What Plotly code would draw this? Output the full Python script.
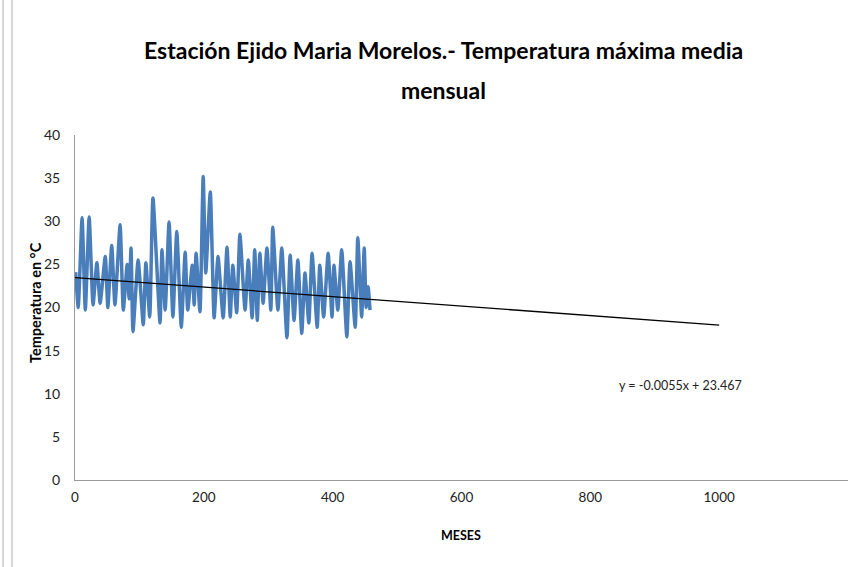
import plotly.graph_objects as go

# Monthly max temperature (readings of peaks/troughs from the reference), month index
meses = [1, 5, 11, 16, 22, 28, 34, 39, 47, 51, 57, 62, 70, 75, 81, 84, 87, 90, 98, 106,
         110, 116, 121, 132, 135, 140, 146, 152, 158, 165, 171, 175, 182, 185, 188, 194,
         199, 203, 210, 216, 222, 230, 236, 241, 245, 251, 256, 264, 269, 275, 279, 283,
         287, 292, 298, 304, 307, 315, 321, 329, 334, 340, 346, 352, 357, 363, 368, 376,
         380, 386, 393, 399, 402, 408, 414, 422, 427, 435, 439, 445, 449, 452, 455, 458]
temperatura = [24.1, 20.0, 30.4, 19.7, 30.5, 20.3, 25.2, 20.5, 25.9, 20.0, 27.2, 20.3,
               29.6, 19.7, 25.0, 21.0, 26.9, 17.2, 25.5, 18.0, 25.2, 18.9, 32.7, 18.2,
               26.7, 19.7, 29.9, 18.9, 28.8, 17.7, 26.4, 19.7, 24.9, 20.3, 26.3, 19.5,
               35.2, 24.0, 33.4, 18.8, 25.9, 18.8, 27.0, 18.9, 24.9, 19.4, 28.5, 19.7,
               25.5, 18.8, 26.7, 18.5, 26.3, 20.5, 26.9, 19.7, 29.3, 19.7, 26.9, 16.5,
               26.1, 18.5, 25.5, 17.0, 24.0, 18.2, 26.3, 17.7, 24.9, 18.9, 26.3, 18.9,
               24.9, 19.7, 26.7, 16.6, 25.3, 17.7, 28.1, 18.9, 26.9, 20.0, 22.4, 19.7]

# Linear trend as given in the chart
pendiente = -0.0055
intercepto = 23.467
tendencia_x = [0, 1000]
tendencia_y = [pendiente * x + intercepto for x in tendencia_x]

x_ticks = [0, 200, 400, 600, 800, 1000, 1200]
y_ticks = [0, 5, 10, 15, 20, 25, 30, 35, 40]

titulo_1 = "Estación Ejido Maria Morelos.- Temperatura máxima media"
titulo_2 = "mensual"
titulo_y = "Temperatura en °C"
titulo_x = "MESES"

font_fam = "Lato, Liberation Sans, sans-serif"

fig = go.Figure()
fig.add_trace(go.Scatter(x=meses, y=temperatura, mode="lines",
                         line=dict(color="#4A7EBB", width=3.5, shape="spline", smoothing=0.5),
                         showlegend=False, hoverinfo="skip"))
fig.add_trace(go.Scatter(x=tendencia_x, y=tendencia_y, mode="lines",
                         line=dict(color="black", width=1.3),
                         showlegend=False, hoverinfo="skip"))

fig.add_annotation(x=940, y=11.0, xref="x", yref="y",
                   text="y = -0.0055x + 23.467", showarrow=False,
                   font=dict(family=font_fam, size=12.5, color="#222"))

# Title as two centred lines (paper coords relative to the plot area: 345 px tall, top at 135 px)
fig.add_annotation(x=0.477, y=(480 - 50) / 345, xref="paper", yref="paper", text="<b>" + titulo_1 + "</b>",
                   showarrow=False, xanchor="center", yanchor="middle",
                   font=dict(family=font_fam, size=23, color="black"))
fig.add_annotation(x=0.477, y=(480 - 90) / 345, xref="paper", yref="paper", text="<b>" + titulo_2 + "</b>",
                   showarrow=False, xanchor="center", yanchor="middle",
                   font=dict(family=font_fam, size=23, color="black"))
# Axis titles
fig.add_annotation(x=(35 - 75) / 773, y=(480 - 303) / 345, xref="paper", yref="paper",
                   text="<b>" + titulo_y + "</b>", textangle=-90, showarrow=False,
                   xanchor="center", yanchor="middle",
                   font=dict(family=font_fam, size=14.5, color="black"))
fig.add_annotation(x=(461 - 75) / 773, y=(480 - 535) / 345, xref="paper", yref="paper",
                   text="<b>" + titulo_x + "</b>", showarrow=False,
                   xanchor="center", yanchor="middle",
                   font=dict(family=font_fam, size=12.5, color="black"))

fig.update_layout(
    width=862, height=567,
    margin=dict(l=75, r=14, t=135, b=87),
    paper_bgcolor="white", plot_bgcolor="white",
    xaxis=dict(range=[0, 1200], tickvals=x_ticks, showgrid=False, zeroline=False,
               showline=True, linecolor="#9a9a9a", linewidth=1, ticks="", automargin=False,
               ticklabelstandoff=5,
               tickfont=dict(family=font_fam, size=13.5, color="#222")),
    yaxis=dict(range=[0, 40], tickvals=y_ticks, showgrid=False, zeroline=False,
               showline=True, linecolor="#9a9a9a", linewidth=1, ticks="", automargin=False,
               ticklabelstandoff=11,
               tickfont=dict(family=font_fam, size=14, color="#222")),
    shapes=[
        dict(type="line", xref="paper", yref="paper", x0=-0.0931, x1=-0.0931, y0=-0.26, y1=1.4,
             line=dict(color="#b0b0b0", width=1)),
        dict(type="line", xref="paper", yref="paper", x0=-0.0815, x1=-0.0815, y0=-0.26, y1=1.4,
             line=dict(color="#b0b0b0", width=1)),
    ],
)

fig.write_html("out.html", config={"displayModeBar": False},
               post_script="document.body.style.margin='0';")
